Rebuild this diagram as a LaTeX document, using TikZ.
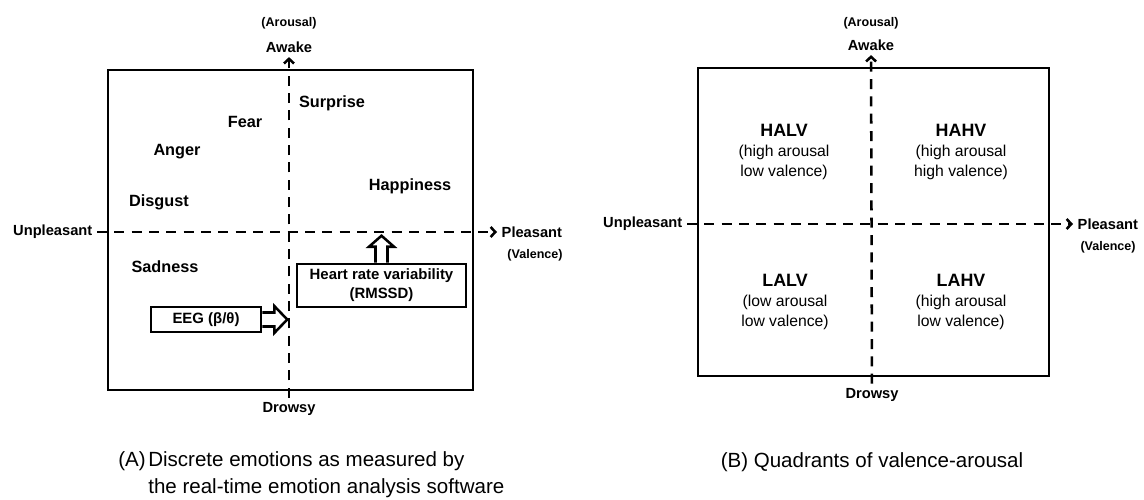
\documentclass[tikz,border=0pt]{standalone}
\usepackage{fontspec}
\setmainfont{Liberation Sans}
\usetikzlibrary{arrows.meta, positioning, calc}

\newcommand{\emofont}{\fontsize{12.2}{14.5}\selectfont\bfseries}
\newcommand{\axisfont}{\fontsize{11}{13}\selectfont\bfseries}
\newcommand{\tagfont}{\fontsize{9.4}{11}\selectfont\bfseries}
\newcommand{\boxfont}{\fontsize{11.2}{14.2}\selectfont\bfseries}
\newcommand{\quadfont}{\fontsize{11.8}{15}\selectfont}
\newcommand{\quadtitle}{\fontsize{13.4}{15}\selectfont\bfseries}
\newcommand{\capfont}{\fontsize{15.4}{20}\selectfont}

\tikzset{
  panel/.style={draw, line width=2.2pt},
  axisline/.style={line width=1.9pt, dash pattern=on 7.5pt off 5.5pt,
                   -{Straight Barb[length=3.5pt,width=7.5pt]}},
  emo/.style={font=\emofont},
  axislabel/.style={font=\axisfont},
  axistag/.style={font=\tagfont},
  measurebox/.style={draw, line width=1.9pt, inner sep=0pt, font=\boxfont, align=center},
  blockarrow/.style={draw, line width=1.9pt, fill=white, line join=miter},
  quad/.style={font=\quadfont, align=center},
  capt/.style={font=\capfont}
}

\begin{document}
\begin{tikzpicture}[x=0.75pt, y=-0.75pt]
\useasboundingbox (0,0) rectangle (1144,499);

% (A) discrete emotions
\draw[panel] (108,70) rectangle (473,390);
\node[axistag] (arousalA) at (289,23) {(Arousal)};
\node[axislabel] (awakeA) at (289,47) {Awake};
\node[axislabel] (drowsyA) at (289,409) {Drowsy};
\node[axislabel, anchor=east] (unplA) at (97,232) {Unpleasant};
\node[axislabel, anchor=west] (pleasA) at (497,232) {Pleasant};
\node[axistag] (valenceA) at (535,255) {(Valence)};
\draw[axisline] (drowsyA) -- (awakeA);
\draw[axisline] (unplA) -- (pleasA);

\node[emo] (surprise) at (332,103) {Surprise};
\node[emo] (fear) at (245,122) {Fear};
\node[emo] (anger) at (177,152) {Anger};
\node[emo] (happiness) at (410,186) {Happiness};
\node[emo] (disgust) at (159,202) {Disgust};
\node[emo] (sadness) at (165,267) {Sadness};

\node[measurebox, minimum width=126.75pt, minimum height=32.25pt] (hrv) at (381.5,285.5)
  {Heart rate variability\\(RMSSD)};
\node[measurebox, minimum width=82.5pt, minimum height=18.75pt] (eeg) at (206,319.5) {EEG (β/θ)};
\draw[blockarrow] ($(eeg.east)+(0,-7)$) -- ++(12,0) -- ++(0,-6.5) -- ++(13,13.5)
  -- ++(-13,13.5) -- ++(0,-6.5) -- ++(-12,0);
\draw[blockarrow] ($(hrv.north)+(-6,0)$) -- ++(0,-16) -- ++(-6.5,0) -- ++(12.5,-11)
  -- ++(12.5,11) -- ++(-6.5,0) -- ++(0,16);

% (B) quadrants
\draw[panel] (698,68) rectangle (1049,376);
\node[axistag] (arousalB) at (871,23) {(Arousal)};
\node[axislabel] (awakeB) at (871,45) {Awake};
\node[axislabel] (drowsyB) at (872,395) {Drowsy};
\node[axislabel, anchor=east] (unplB) at (687,224) {Unpleasant};
\node[axislabel, anchor=west] (pleasB) at (1073,224) {Pleasant};
\node[axistag] (valenceB) at (1108,247) {(Valence)};
\draw[axisline] (drowsyB) -- (awakeB);
\draw[axisline] (unplB) -- (pleasB);

\node[quad] (halv) at (784,152) {{\quadtitle HALV}\\(high arousal\\low valence)};
\node[quad] (hahv) at (961,152) {{\quadtitle HAHV}\\(high arousal\\high valence)};
\node[quad] (lalv) at (785,302) {{\quadtitle LALV}\\(low arousal\\low valence)};
\node[quad] (lahv) at (961,302) {{\quadtitle LAHV}\\(high arousal\\low valence)};

% captions
\node[capt, anchor=west, inner sep=0pt] (capA) at (118,474.5)
  {\begin{tabular}{@{}l@{\hspace{2pt}}l@{}}(A)&Discrete emotions as measured by\\
   &the real-time emotion analysis software\end{tabular}};
\node[capt] (capB) at (872,462) {(B) Quadrants of valence-arousal};
\end{tikzpicture}
\end{document}
